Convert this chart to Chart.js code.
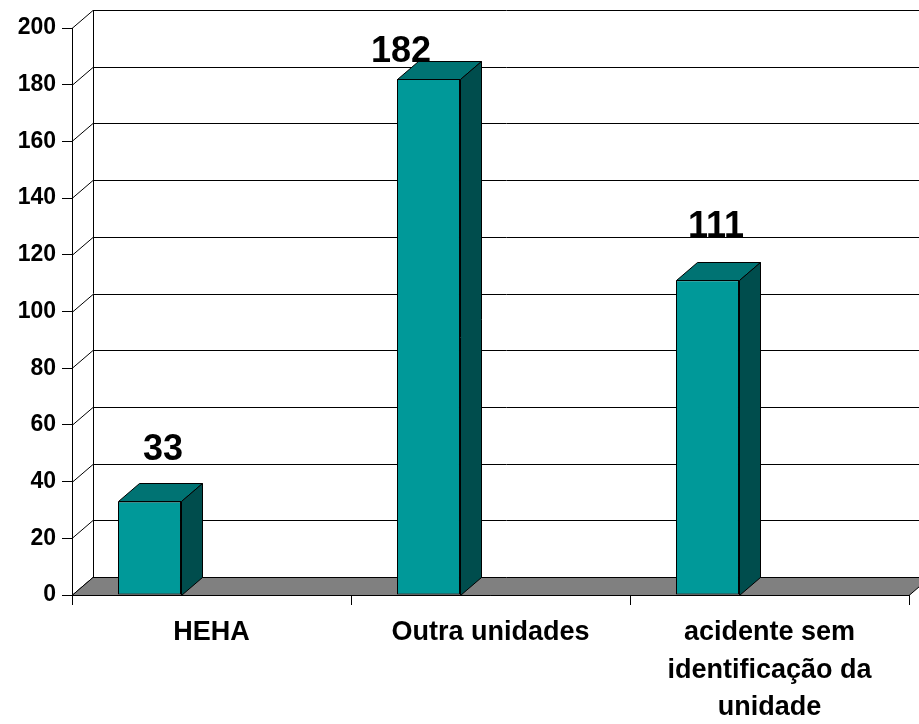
<!DOCTYPE html>
<html lang="pt">
<head>
<meta charset="UTF-8">
<title>Acidentes por unidade</title>
<script src="https://cdn.jsdelivr.net/npm/chart.js"></script>
<style>
  html, body { margin: 0; padding: 0; background: #fff; }
</style>
</head>
<body>
<canvas id="chart" width="919" height="724"></canvas>
<script>
// dados do grafico
const categories = ['HEHA', 'Outra unidades', ['acidente sem', 'identificação da', 'unidade']];
const values = [33, 182, 111];
const yMin = 0;
const yMax = 200;
const yStep = 20;

// profundidade do efeito 3D
const DX = 21, DY = 18;

function poly(ctx, pts, fill) {
  ctx.beginPath();
  ctx.moveTo(pts[0][0], pts[0][1]);
  for (let i = 1; i < pts.length; i++) ctx.lineTo(pts[i][0], pts[i][1]);
  ctx.closePath();
  if (fill) { ctx.fillStyle = fill; ctx.fill(); }
  ctx.stroke();
}

const box3d = {
  id: 'box3d',
  beforeDatasetsDraw(chart) {
    const { ctx, chartArea: a, scales: { y } } = chart;
    ctx.save();
    ctx.strokeStyle = '#000';
    ctx.lineWidth = 1;
    // parede do fundo + diagonais
    y.ticks.forEach(t => {
      const py = Math.round(y.getPixelForValue(t.value)) + 0.5;
      ctx.beginPath();
      ctx.moveTo(a.left, py);
      ctx.lineTo(a.left + DX, py - DY);
      if (t.value > yMin) ctx.lineTo(a.right + DX, py - DY);
      ctx.stroke();
    });
    ctx.beginPath();
    ctx.moveTo(a.left + DX + 0.5, Math.round(a.top) - DY);
    ctx.lineTo(a.left + DX + 0.5, Math.round(a.bottom) - DY);
    ctx.stroke();
    // chao
    const b = Math.round(a.bottom) + 0.5;
    poly(ctx, [[a.left, b], [a.right, b], [a.right + DX, b - DY], [a.left + DX, b - DY]], '#808080');
    ctx.restore();
  },
  afterDatasetsDraw(chart, args, opts) {
    const { ctx } = chart;
    const meta = chart.getDatasetMeta(0);
    ctx.save();
    ctx.strokeStyle = '#000';
    ctx.lineWidth = 1;
    meta.data.forEach((bar, i) => {
      const l = Math.round(bar.x - bar.width / 2) + 0.5;
      const r = Math.round(bar.x + bar.width / 2) + 0.5;
      const t = Math.round(bar.y) + 0.5;
      const b = Math.round(bar.base) + 0.5;
      poly(ctx, [[l, t], [r, t], [r + DX, t - DY], [l + DX, t - DY]], '#007373');
      poly(ctx, [[r, t], [r + DX, t - DY], [r + DX, b - DY], [r, b]], '#004d4d');
      // rotulo do valor
      const off = opts.labelOffsets[i] || [0, -20];
      ctx.fillStyle = '#000';
      ctx.font = 'bold 36px "Liberation Sans", Arial, sans-serif';
      ctx.textAlign = 'center';
      ctx.textBaseline = 'alphabetic';
      ctx.fillText(String(values[i]), bar.x + DX / 2 + off[0], t - DY + off[1]);
    });
    ctx.restore();
  }
};

new Chart(document.getElementById('chart'), {
  type: 'bar',
  data: {
    labels: categories,
    datasets: [
      {
        label: 'Acidentes',
        data: values,
        backgroundColor: '#009999',
        borderColor: '#000',
        borderWidth: 1,
        borderSkipped: false,
        categoryPercentage: 0.889,
        barPercentage: 0.508
      },
      {
        // serie vazia, como no grafico original
        label: '',
        data: [],
        categoryPercentage: 0.889,
        barPercentage: 0.508
      }
    ]
  },
  options: {
    responsive: false,
    animation: false,
    devicePixelRatio: 1,
    layout: { padding: { top: 28, right: 10, left: 0, bottom: 0 } },
    plugins: {
      legend: { display: false },
      tooltip: { enabled: false },
      box3d: { labelOffsets: [[3, -24], [-38, 0], [-2, -26]] }
    },
    scales: {
      x: {
        afterFit(scale) { scale.height = 129; },
        grid: { drawOnChartArea: false, drawTicks: true, tickLength: 10, color: '#000', offset: true },
        border: { display: true, color: '#000' },
        ticks: {
          color: '#000',
          padding: 9,
          maxRotation: 0,
          autoSkip: false,
          font: { family: '"Liberation Sans", Arial, sans-serif', size: 27, weight: 'bold', lineHeight: 1.39 }
        }
      },
      y: {
        min: yMin,
        max: yMax,
        afterFit(scale) { scale.width = 72; },
        grid: { drawOnChartArea: false, drawTicks: true, tickLength: 10, color: '#000' },
        border: { display: true, color: '#000' },
        ticks: {
          stepSize: yStep,
          color: '#000',
          padding: 6,
          font: { family: '"Liberation Sans", Arial, sans-serif', size: 23, weight: 'bold' }
        }
      }
    }
  },
  plugins: [box3d]
});
</script>
</body>
</html>
